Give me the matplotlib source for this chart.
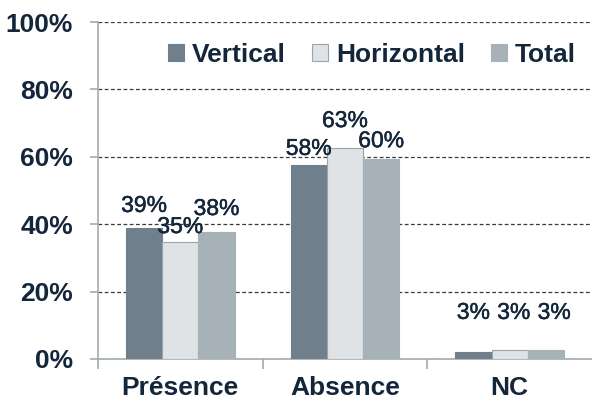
import matplotlib
matplotlib.use("Agg")
import matplotlib.pyplot as plt
import matplotlib.patheffects as pe
import numpy as np
from matplotlib.ticker import FixedLocator, PercentFormatter

categories = ["Présence", "Absence", "NC"]
series_names = ["Vertical", "Horizontal", "Total"]
vertical = [38.9, 57.6, 2.1]
horizontal = [34.7, 62.6, 2.7]
total = [37.7, 59.3, 2.7]
labels_vertical = ["39%", "58%", "3%"]
labels_horizontal = ["35%", "63%", "3%"]
labels_total = ["38%", "60%", "3%"]
yticks = [0, 20, 40, 60, 80, 100]

values = [vertical, horizontal, total]
labels = [labels_vertical, labels_horizontal, labels_total]
colors = ["#6f808c", "#dfe3e6", "#a6b1b8"]
edges = ["#6f808c", "#9aa3a9", "#a6b1b8"]
text_color = "#14263a"
# label baseline offsets in points (style), per series, per category
offsets = [[11.5, 7.2, 23.8], [6.5, 15.1, 22.3], [12.2, 8.6, 22.3]]
xshift = [[0, 0, 0], [0, 0, 3], [0, 0, 6]]

W, H = 592, 401
fig = plt.figure(figsize=(W / 100, H / 100), dpi=100)
ax = fig.add_axes([98 / W, (H - 359) / H, 494 / W, 337 / H])

x = np.arange(len(categories))
bw = 0.22
for i, (vals, lab) in enumerate(zip(values, labels)):
    pos = x + (i - 1) * bw
    bars = ax.bar(pos, vals, width=bw, color=colors[i], edgecolor=edges[i],
                  linewidth=0.8, label=series_names[i], zorder=3)
    for j, b in enumerate(bars):
        ax.annotate(lab[j], (b.get_x() + b.get_width() / 2, b.get_height()),
                    xytext=(xshift[i][j], offsets[i][j]), textcoords="offset points",
                    ha="center", va="baseline", fontsize=16.5,
                    family="Liberation Sans", color=text_color, zorder=5,
                    path_effects=[pe.withStroke(linewidth=0.35, foreground=text_color)])

ax.set_xlim(-0.5, 2.5)
ax.set_ylim(0, 100)
ax.yaxis.set_major_locator(FixedLocator(yticks))
ax.yaxis.set_major_formatter(PercentFormatter(decimals=0))
ax.grid(axis="y", linestyle=(0, (3, 2)), color="#3a3a3a", linewidth=0.9, zorder=0)
for s in ["top", "right"]:
    ax.spines[s].set_visible(False)
ax.spines["left"].set_color("#a3abb0")
ax.spines["bottom"].set_color("#a3abb0")
ax.spines["left"].set_linewidth(1.2)
ax.spines["bottom"].set_linewidth(1.2)

ax.set_xticks(x)
ax.set_xticklabels(categories)
ax.set_xticks([-0.5, 0.5, 1.5], minor=True)
ax.tick_params(axis="x", which="major", length=0, pad=12)
ax.tick_params(axis="x", which="minor", length=7, color="#a3abb0", width=1.2)
ax.tick_params(axis="y", length=6, color="#a3abb0", width=1.2, pad=12)
for t in ax.get_xticklabels() + ax.get_yticklabels():
    t.set_fontsize(19)
    t.set_fontweight("bold")
    t.set_family("Liberation Sans")
    t.set_color(text_color)

leg = ax.legend(loc="upper right", bbox_to_anchor=(1.0, 0.985), ncol=3, frameon=False,
                prop={"family": "Liberation Sans", "weight": "bold", "size": 19},
                handlelength=0.6, handleheight=0.6, handletextpad=0.3,
                columnspacing=1.0, borderaxespad=0.2)
for t in leg.get_texts():
    t.set_color(text_color)

fig.savefig("out.png", dpi=100, facecolor="white")
